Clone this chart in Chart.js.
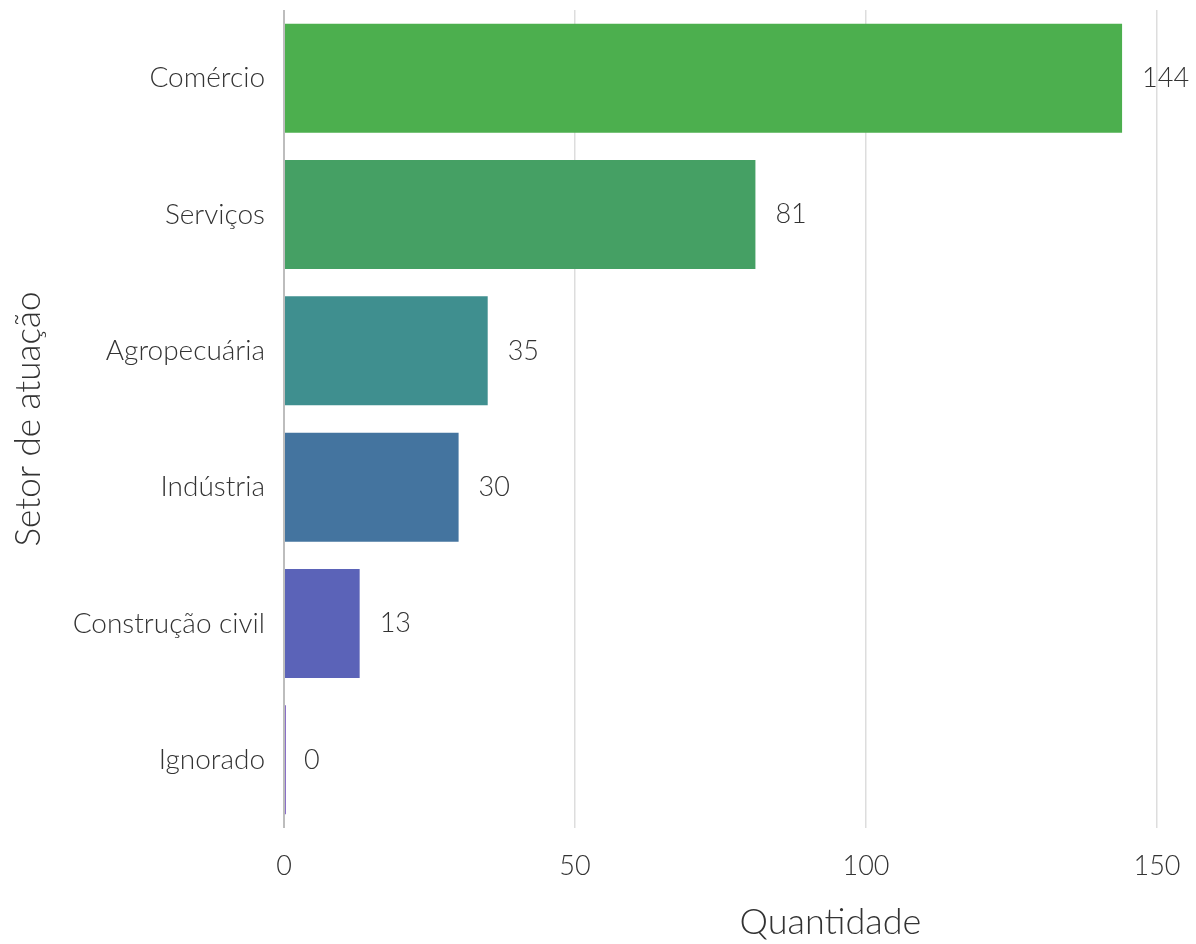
<!DOCTYPE html>
<html><head><meta charset="utf-8">
<script src="https://cdn.jsdelivr.net/npm/chart.js@4/dist/chart.umd.min.js"></script>
<style>html,body{margin:0;padding:0;background:#fff;}#wrap{width:1196px;height:944px;}</style>
</head><body><div id="wrap"><canvas id="c" width="1196" height="944"></canvas></div>
<script>
const categories = ["Comércio","Serviços","Agropecuária","Indústria","Construção civil","Ignorado"];
const values = [144, 81, 35, 30, 13, 0];
const barColors = ["#4caf4e","#45a064","#3f8f8f","#44749f","#5b63b8","#8a6fc8"];
const xTicks = [0, 50, 100, 150];
const xTitle = "Quantidade";
const yTitle = "Setor de atuação";

const FONT = "Lato";
const labelPlugin = {
  id: 'valueLabels',
  afterDatasetsDraw(chart) {
    const ctx = chart.ctx;
    const meta = chart.getDatasetMeta(0);
    const xs = chart.scales.x;
    ctx.save();
    ctx.font = "300 27px " + FONT;
    ctx.fillStyle = "#333";
    ctx.textAlign = "left";
    ctx.textBaseline = "middle";
    meta.data.forEach((bar, i) => {
      const x = xs.getPixelForValue(values[i]);
      ctx.fillText(String(values[i]), x + 20, bar.y);
    });
    // x-axis title, placed right of centre as in the reference
    ctx.font = "300 36px " + FONT;
    ctx.textAlign = "center";
    ctx.fillText(xTitle, xs.left + 0.626 * xs.width, xs.bottom - 22);
    ctx.restore();
  }
};

new Chart(document.getElementById('c'), {
  type: 'bar',
  data: {
    labels: categories,
    datasets: [{
      data: values,
      backgroundColor: barColors,
      borderWidth: 0,
      barPercentage: 0.8,
      categoryPercentage: 1.0,
      minBarLength: 2
    }]
  },
  options: {
    indexAxis: 'y',
    responsive: false,
    animation: false,
    layout: { padding: { top: 10, right: 39, left: 0, bottom: 0 } },
    plugins: { legend: { display: false }, tooltip: { enabled: false } },
    scales: {
      x: {
        min: 0, max: 150,
        afterBuildTicks: (s) => { s.ticks = xTicks.map(v => ({ value: v })); },
        afterFit: (s) => { s.height = 116; s.paddingLeft = 0; s.paddingRight = 0; },
        grid: { drawTicks: false, color: (c) => c.tick && c.tick.value === 0 ? '#bdbdbd' : '#dddddd', lineWidth: (c) => c.tick && c.tick.value === 0 ? 2 : 1.5 },
        border: { display: false },
        ticks: { padding: 22, color: '#333', font: { family: FONT, weight: 300, size: 27 } },
        title: { display: false }
      },
      y: {
        afterFit: (s) => { s.width = 284; s.paddingTop = 0; s.paddingBottom = 0; },
        grid: { display: false, drawTicks: false },
        border: { display: false },
        ticks: { padding: 19, color: '#333', font: { family: FONT, weight: 300, size: 28 } },
        title: { display: true, text: yTitle, color: '#333', font: { family: FONT, weight: 300, size: 35 }, padding: { top: 8, bottom: 4 } }
      }
    }
  },
  plugins: [labelPlugin]
});
</script></body></html>
